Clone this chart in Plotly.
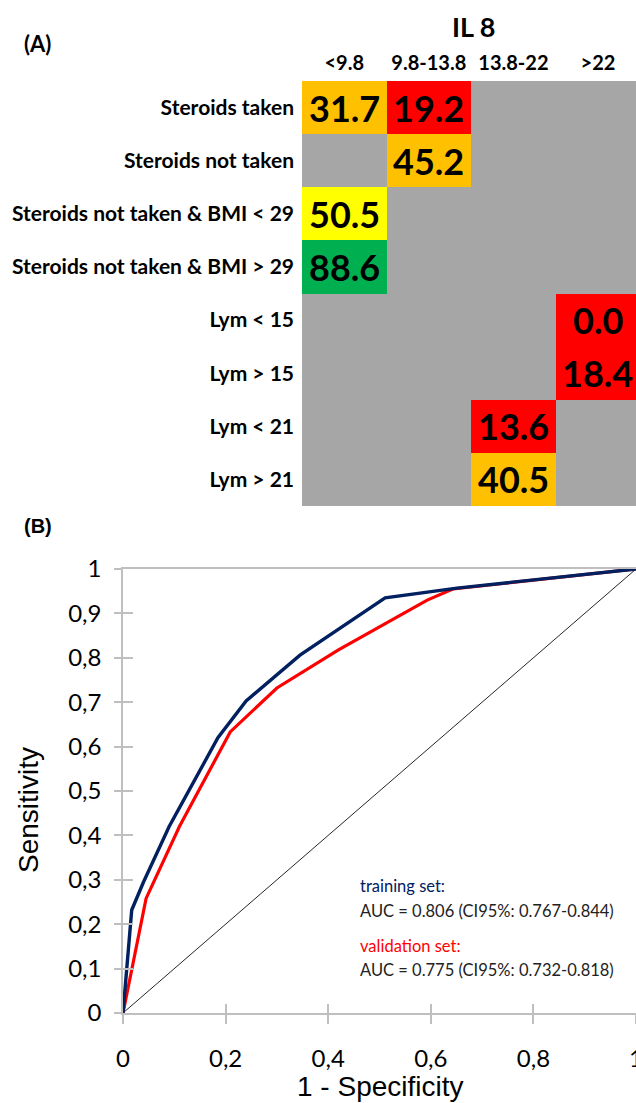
import plotly.graph_objects as go

# ---------------- Data ----------------
col_labels = ["<9.8", "9.8-13.8", "13.8-22", ">22"]
row_labels = [
    "Steroids taken",
    "Steroids not taken",
    "Steroids not taken & BMI < 29",
    "Steroids not taken & BMI > 29",
    "Lym < 15",
    "Lym > 15",
    "Lym < 21",
    "Lym > 21",
]
cell_values = [
    [31.7, 19.2, None, None],
    [None, 45.2, None, None],
    [50.5, None, None, None],
    [88.6, None, None, None],
    [None, None, None, 0.0],
    [None, None, None, 18.4],
    [None, None, 13.6, None],
    [None, None, 40.5, None],
]

train_fpr = [0, 0.017, 0.04, 0.09, 0.185, 0.24, 0.345, 0.511, 0.651, 1.0]
train_tpr = [0, 0.232, 0.295, 0.42, 0.62, 0.703, 0.806, 0.935, 0.957, 1.0]
valid_fpr = [0, 0.045, 0.11, 0.209, 0.30, 0.42, 0.593, 0.643, 1.0]
valid_tpr = [0, 0.258, 0.42, 0.633, 0.732, 0.818, 0.93, 0.955, 1.0]
chance = [0, 1]

tick_vals = [0, 0.1, 0.2, 0.3, 0.4, 0.5, 0.6, 0.7, 0.8, 0.9, 1.0]
x_tick_vals = [0, 0.2, 0.4, 0.6, 0.8, 1.0]

train_text = ["training set:", "AUC = 0.806 (CI95%: 0.767-0.844)"]
valid_text = ["validation set:", "AUC = 0.775 (CI95%: 0.732-0.818)"]
x_title = "1 - Specificity"
y_title = "Sensitivity"

# ---------------- Styling ----------------
W, H = 636, 1103
GRAY = "#A6A6A6"
class_colors = [GRAY, "#FF0000", "#FFC000", "#FFFF00", "#00B050"]
NAVY = "#002060"
RED = "#FF0000"
AXIS_GRAY = "#BFBFBF"


def value_class(v):
    if v is None:
        return 0
    if v < 20:
        return 1
    if v < 50:
        return 2
    if v < 70:
        return 3
    return 4


z = [[value_class(v) for v in row] for row in cell_values]
n = len(class_colors)
cscale = []
for i, c in enumerate(class_colors):
    cscale.append([i / n, c])
    cscale.append([(i + 1) / n, c])


def py(px):  # pixel y -> paper
    return (H - px) / H


def pxx(px):
    return px / W


fig = go.Figure()

fig.add_trace(go.Heatmap(
    z=z, x=col_labels, y=row_labels,
    colorscale=cscale, zmin=-0.5, zmax=n - 0.5, showscale=False,
    xgap=0, ygap=0, hoverinfo="skip",
    xaxis="x", yaxis="y",
))

annotations = []
for r, row in enumerate(cell_values):
    for c, v in enumerate(row):
        if v is None:
            continue
        annotations.append(dict(
            x=col_labels[c], y=row_labels[r], xref="x", yref="y",
            text=f"<b>{v:.1f}</b>", showarrow=False,
            font=dict(family="Lato", size=36, color="black"),
            xanchor="center", yanchor="middle",
        ))

# ROC traces
fig.add_trace(go.Scatter(x=chance, y=chance, mode="lines",
                         line=dict(color="#262626", width=1),
                         xaxis="x2", yaxis="y2", showlegend=False,
                         hoverinfo="skip", cliponaxis=False))
fig.add_trace(go.Scatter(x=valid_fpr, y=valid_tpr, mode="lines",
                         line=dict(color=RED, width=3.2),
                         xaxis="x2", yaxis="y2", showlegend=False,
                         cliponaxis=False))
fig.add_trace(go.Scatter(x=train_fpr, y=train_tpr, mode="lines",
                         line=dict(color=NAVY, width=3.4),
                         xaxis="x2", yaxis="y2", showlegend=False,
                         cliponaxis=False))
# dummy traces to show inner tick axes
fig.add_trace(go.Scatter(x=[None], y=[None], xaxis="x3", yaxis="y2",
                         showlegend=False, hoverinfo="skip"))
fig.add_trace(go.Scatter(x=[None], y=[None], xaxis="x2", yaxis="y3",
                         showlegend=False, hoverinfo="skip"))

roc_dom_x = [pxx(123), 1.0]
roc_dom_y = [py(1013), py(569)]

tick_txt = [("%g" % v).replace(".", ",") for v in tick_vals]
x_tick_txt = [("%g" % v).replace(".", ",") for v in x_tick_vals]

text_x = (358 - 123) / 513
for i, (t, yy, col) in enumerate([
    (train_text[0], 0.286, NAVY), (train_text[1], 0.229, "#222222"),
    (valid_text[0], 0.150, RED), (valid_text[1], 0.097, "#222222")]):
    annotations.append(dict(
        x=text_x, y=yy, xref="x2", yref="y2", text=t, showarrow=False,
        xanchor="left", yanchor="middle",
        font=dict(family="Lato", size=16.5, color=col),
    ))

annotations += [
    dict(x=pxx(474), y=py(27), xref="paper", yref="paper", text="<b>IL 8</b>",
         showarrow=False, xanchor="center", yanchor="middle",
         font=dict(family="Lato", size=27, color="black")),
    dict(x=pxx(22), y=py(43), xref="paper", yref="paper", text="<b>(A)</b>",
         showarrow=False, xanchor="left", yanchor="middle",
         font=dict(family="Lato", size=22, color="black")),
    dict(x=pxx(22), y=py(526), xref="paper", yref="paper", text="<b>(B)</b>",
         showarrow=False, xanchor="left", yanchor="middle",
         font=dict(family="Liberation Sans", size=20, color="black")),
    dict(x=pxx(380), y=py(1086), xref="paper", yref="paper", text=x_title,
         showarrow=False, xanchor="center", yanchor="middle",
         font=dict(family="Liberation Sans", size=28, color="black")),
    dict(x=pxx(28), y=py(810), xref="paper", yref="paper", text=y_title,
         showarrow=False, xanchor="center", yanchor="middle", textangle=-90,
         font=dict(family="Liberation Sans", size=28, color="black")),
]

common = dict(automargin=False, showgrid=False, zeroline=False)

fig.update_layout(
    width=W, height=H, autosize=False,
    margin=dict(l=0, r=0, t=0, b=0, pad=0, autoexpand=False),
    paper_bgcolor="white", plot_bgcolor="white",
    showlegend=False,
    annotations=annotations,
    xaxis=dict(domain=[pxx(302), 1.0], range=[-0.5, 3.45], side="top",
               anchor="y", showline=False, ticks="", ticklabelstandoff=6,
               tickfont=dict(family="Lato", size=20, color="black", weight="bold"),
               **common),
    yaxis=dict(domain=[py(506), py(81)], autorange="reversed",
               anchor="x", showline=False, ticks="", ticklabelstandoff=7,
               tickfont=dict(family="Lato", size=21, color="black", weight="bold"),
               **common),
    xaxis2=dict(domain=roc_dom_x, range=[0, 1], anchor="y2",
                showline=True, linecolor=AXIS_GRAY, linewidth=1.5, mirror=True,
                ticks="outside", ticklen=9, tickcolor=AXIS_GRAY, tickwidth=1.5,
                tickvals=x_tick_vals, ticktext=x_tick_txt,
                tickfont=dict(family="Lato", size=24, color="black"),
                ticklabelstandoff=14, ticklabeloverflow="allow", **common),
    yaxis2=dict(domain=roc_dom_y, range=[0, 1], anchor="x2",
                showline=True, linecolor=AXIS_GRAY, linewidth=1.5,
                ticks="outside", ticklen=7, tickcolor=AXIS_GRAY, tickwidth=1.5,
                tickvals=tick_vals, ticktext=tick_txt,
                tickfont=dict(family="Lato", size=24, color="black"),
                ticklabelstandoff=8, **common),
    xaxis3=dict(overlaying="x2", anchor="y2", range=[0, 1], showline=False,
                ticks="inside", ticklen=9, tickcolor=AXIS_GRAY, tickwidth=1.5,
                tickvals=x_tick_vals, showticklabels=False, side="bottom",
                **common),
    yaxis3=dict(overlaying="y2", anchor="x2", range=[0, 1], showline=False,
                ticks="inside", ticklen=10, tickcolor=AXIS_GRAY, tickwidth=1.5,
                tickvals=tick_vals, showticklabels=False, side="left",
                **common),
)

fig.write_html(
    "out.html",
    config={"displayModeBar": False},
    post_script="document.body.style.margin='0';document.body.style.padding='0';"
                "document.body.style.overflow='hidden';",
)
